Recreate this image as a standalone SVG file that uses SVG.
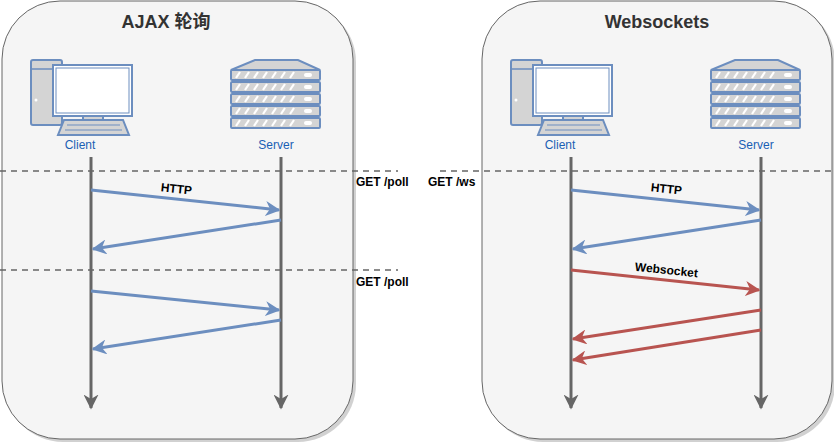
<svg xmlns="http://www.w3.org/2000/svg" width="834" height="444" viewBox="0 0 834 444">
<style>
.panel{fill:#f5f5f5;stroke:#666;stroke-width:1}
.shadow{fill:#000;opacity:0.18}
.title{font-family:"Liberation Sans","Noto Sans CJK SC",sans-serif;font-size:18px;font-weight:bold;fill:#333;text-anchor:middle}
.lbl{font-family:"Liberation Sans",sans-serif;font-size:12px;fill:#1a5fb4;text-anchor:middle}
.msg{font-family:"Liberation Sans",sans-serif;font-size:12px;font-weight:bold;fill:#000}
.life{stroke:#666;stroke-width:3;fill:none}
.dash{stroke:#666;stroke-width:1.5;stroke-dasharray:6 5;fill:none}
.blue{stroke:#6c8ebf;stroke-width:3;fill:none}
.red{stroke:#b85450;stroke-width:3;fill:none}
.ic{fill:#d4d4d4;stroke:#6c8ebf;stroke-width:2}
.icw{fill:#fff;stroke:#6c8ebf;stroke-width:2}
.stripe{stroke:#fff;stroke-width:2.2}
</style>
<defs>
<marker id="ag" viewBox="0 0 10 10" refX="9" refY="5" markerWidth="5" markerHeight="5" orient="auto" markerUnits="strokeWidth"><path d="M0,0 L10,5 L0,10 L3,5 Z" fill="#666"/></marker>
<marker id="ab" viewBox="0 0 10 10" refX="9" refY="5" markerWidth="5" markerHeight="5" orient="auto" markerUnits="strokeWidth"><path d="M0,0 L10,5 L0,10 L3,5 Z" fill="#6c8ebf"/></marker>
<marker id="ar" viewBox="0 0 10 10" refX="9" refY="5" markerWidth="5" markerHeight="5" orient="auto" markerUnits="strokeWidth"><path d="M0,0 L10,5 L0,10 L3,5 Z" fill="#b85450"/></marker>
<g id="clientIcon">
<rect class="ic" x="0" y="0" width="31" height="65" rx="2"/>
<line x1="0" y1="9" x2="31" y2="9" stroke="#6c8ebf" stroke-width="1.5"/>
<circle cx="5" cy="40" r="1.5" fill="#fff"/>
<rect class="ic" x="52" y="55" width="20" height="6"/>
<rect class="icw" x="22" y="5" width="79" height="51"/>
<rect x="25" y="8" width="73" height="45" fill="#fff" stroke="#6c8ebf" stroke-width="1"/>
<path class="ic" d="M33,60 L92,60 L98,75 L27,75 Z"/>
<line x1="36" y1="65" x2="89" y2="65" stroke="#6c8ebf" stroke-width="1.2"/>
<line x1="34" y1="70" x2="91" y2="70" stroke="#6c8ebf" stroke-width="1.2"/>
</g>
<g id="unit">
<rect class="ic" x="0" y="0" width="89" height="10" rx="1"/>
<g class="stripe">
<line x1="5" y1="8" x2="9" y2="2"/><line x1="14" y1="8" x2="18" y2="2"/><line x1="23" y1="8" x2="27" y2="2"/><line x1="32" y1="8" x2="36" y2="2"/><line x1="41" y1="8" x2="45" y2="2"/><line x1="50" y1="8" x2="54" y2="2"/><line x1="59" y1="8" x2="63" y2="2"/>
</g>
<rect x="73" y="3" width="8" height="4" rx="2" fill="#fff"/>
</g>
<g id="serverIcon">
<path class="ic" d="M24,0 L67,0 L89,10 L0,10 Z"/>
<use href="#unit" y="10"/>
<use href="#unit" y="22"/>
<use href="#unit" y="34"/>
<use href="#unit" y="46"/>
<use href="#unit" y="58"/>
</g>
</defs>

<g id="panel-ajax">
<rect class="shadow" x="5" y="4" width="351" height="438" rx="58"/>
<rect class="panel" x="2" y="1" width="351" height="438" rx="58"/>
<text class="title" x="166" y="28">AJAX 轮询</text>
</g>
<g id="panel-ws">
<rect class="shadow" x="485" y="4" width="350" height="438" rx="58"/>
<rect class="panel" x="482" y="1" width="350" height="438" rx="58"/>
<text class="title" x="657" y="28">Websockets</text>
</g>

<g id="ajax-client">
<use href="#clientIcon" x="31" y="60"/>
<text class="lbl" x="80" y="149">Client</text>
</g>
<g id="ajax-server">
<use href="#serverIcon" x="231" y="60"/>
<text class="lbl" x="276" y="149">Server</text>
</g>
<g id="ws-client">
<use href="#clientIcon" x="511" y="60"/>
<text class="lbl" x="560" y="149">Client</text>
</g>
<g id="ws-server">
<use href="#serverIcon" x="711" y="60"/>
<text class="lbl" x="756" y="149">Server</text>
</g>

<g id="connectors">
<line class="dash" x1="0" y1="171" x2="398" y2="171"/>
<line class="dash" x1="0" y1="270" x2="398" y2="270"/>
<line class="dash" x1="440" y1="171" x2="834" y2="171"/>
<text class="msg" x="356" y="186">GET /poll</text>
<text class="msg" x="356" y="286">GET /poll</text>
<text class="msg" x="428" y="186">GET /ws</text>

<line class="life" x1="91" y1="157" x2="91" y2="408" marker-end="url(#ag)"/>
<line class="life" x1="281" y1="157" x2="281" y2="408" marker-end="url(#ag)"/>
<line class="life" x1="571" y1="157" x2="571" y2="408" marker-end="url(#ag)"/>
<line class="life" x1="761" y1="157" x2="761" y2="408" marker-end="url(#ag)"/>

<line class="blue" x1="91" y1="190" x2="279" y2="210" marker-end="url(#ab)"/>
<text class="msg" x="176" y="193" text-anchor="middle" transform="rotate(6 176 193)">HTTP</text>
<line class="blue" x1="281" y1="220" x2="93" y2="249" marker-end="url(#ab)"/>
<line class="blue" x1="91" y1="291" x2="279" y2="310" marker-end="url(#ab)"/>
<line class="blue" x1="281" y1="320" x2="93" y2="349" marker-end="url(#ab)"/>

<line class="blue" x1="571" y1="190" x2="759" y2="210" marker-end="url(#ab)"/>
<text class="msg" x="666" y="193" text-anchor="middle" transform="rotate(6 666 193)">HTTP</text>
<line class="blue" x1="761" y1="220" x2="573" y2="249" marker-end="url(#ab)"/>
<line class="red" x1="571" y1="270" x2="759" y2="290" marker-end="url(#ar)"/>
<text class="msg" x="666" y="274" text-anchor="middle" transform="rotate(6 666 274)">Websocket</text>
<line class="red" x1="761" y1="310" x2="573" y2="339" marker-end="url(#ar)"/>
<line class="red" x1="761" y1="330" x2="573" y2="360" marker-end="url(#ar)"/>
</g>
</svg>
